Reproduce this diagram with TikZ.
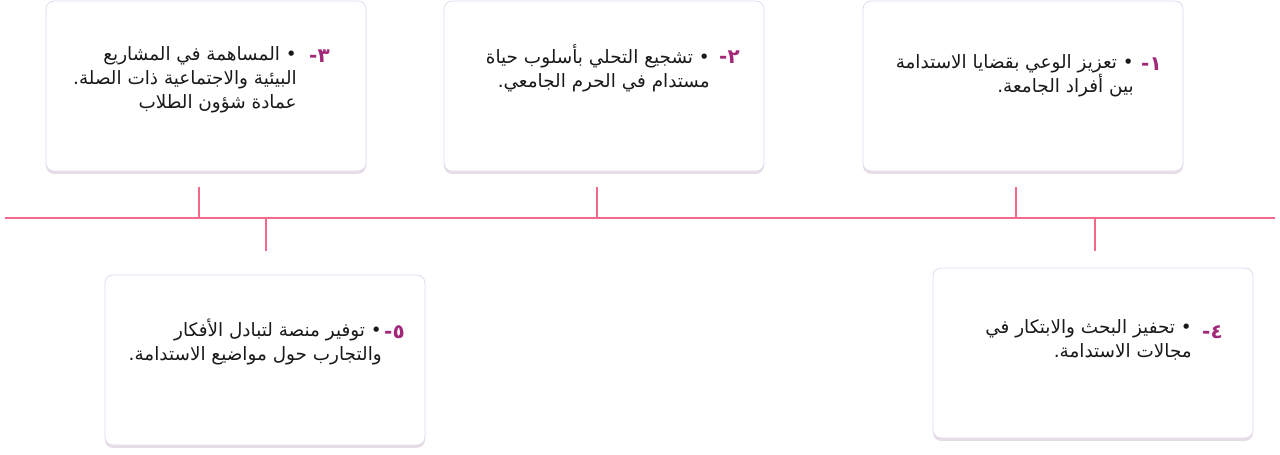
\documentclass[tikz,border=0pt]{standalone}
\usepackage{fontspec}
\usetikzlibrary{shadows}
\TeXXeTstate=1
\newfontfamily\arabicfont[Script=Arabic]{DejaVu Sans}
\definecolor{tl}{HTML}{F2698A}
\definecolor{num}{HTML}{A3287A}
\definecolor{bd}{HTML}{E4DAEC}
\definecolor{txt}{HTML}{1A1A1A}
\begin{document}
\begin{tikzpicture}[x=0.75pt,y=-0.75pt,
  card/.style={draw=bd, line width=0.6pt, fill=white, rounded corners=6pt,
    drop shadow={shadow xshift=0pt, shadow yshift=-2.2pt, opacity=0.45, fill=black!40!violet!30}},
  tline/.style={draw=tl, line width=1.7pt},
  numtxt/.style={inner sep=0pt, text=num, font=\arabicfont\fontsize{15}{18}\selectfont\bfseries, anchor=base east},
  bodytxt/.style={inner sep=0pt, text=txt, align=right, font=\arabicfont\fontsize{13.8}{18}\selectfont, anchor=north east}
]
\useasboundingbox (0,0) rectangle (1280,454);
\fill[white] (0,0) rectangle (1280,454);
% cards
\path[card] (46,1) rectangle (366,171);
\path[card] (444,1) rectangle (764,171);
\path[card] (863,1) rectangle (1183,171);
\path[card] (105,275) rectangle (425,445);
\path[card] (933,268) rectangle (1253,438);
% timeline
\coordinate (L) at (5,218);
\coordinate (R) at (1275,218);
\coordinate (t3a) at (199,187); \coordinate (t3b) at (199,218);
\coordinate (t5a) at (266,218); \coordinate (t5b) at (266,251);
\coordinate (t2a) at (597,187); \coordinate (t2b) at (597,218);
\coordinate (t1a) at (1016,187); \coordinate (t1b) at (1016,218);
\coordinate (t4a) at (1095,218); \coordinate (t4b) at (1095,251);
\draw[tline] (L) -- (R);
\draw[tline] (t3a) -- (t3b);
\draw[tline] (t5a) -- (t5b);
\draw[tline] (t2a) -- (t2b);
\draw[tline] (t1a) -- (t1b);
\draw[tline] (t4a) -- (t4b);
% numbers
\node[numtxt] (n3) at (330,62) {\beginR ٣-\endR};
\node[numtxt] (n2) at (740,63) {\beginR ٢-\endR};
\node[numtxt] (n1) at (1162,70) {\beginR ١-\endR};
\node[numtxt] (n5) at (405,338) {\beginR ٥-\endR};
\node[numtxt] (n4) at (1223,338) {\beginR ٤-\endR};
% texts
\node[bodytxt] (b3) at (297,46) {\beginR • المساهمة في المشاريع\endR\\\beginR البيئية والاجتماعية ذات الصلة.\endR\\\beginR عمادة شؤون الطلاب\endR};
\node[bodytxt] (b2) at (710,44) {\beginR • تشجيع التحلي بأسلوب حياة\endR\\\beginR مستدام في الحرم الجامعي.\endR};
\node[bodytxt] (b1) at (1134,54) {\beginR • تعزيز الوعي بقضايا الاستدامة\endR\\\beginR بين أفراد الجامعة.\endR};
\node[bodytxt] (b5) at (382,319) {\beginR • توفير منصة لتبادل الأفكار\endR\\\beginR والتجارب حول مواضيع الاستدامة.\endR};
\node[bodytxt] (b4) at (1192,319) {\beginR • تحفيز البحث والابتكار في\endR\\\beginR مجالات الاستدامة.\endR};
\end{tikzpicture}
\end{document}
